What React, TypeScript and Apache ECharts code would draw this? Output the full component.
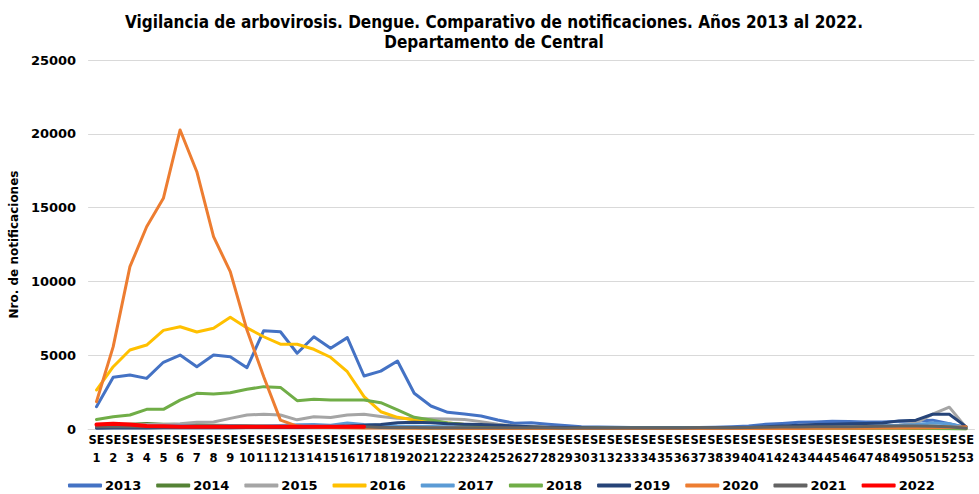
import React, { useEffect, useRef } from "react";
import * as echarts from "echarts";

const weeks: string[] = Array.from({ length: 53 }, (_, i) => `SE\n${i + 1}`);
const yTicks = [0, 5000, 10000, 15000, 20000, 25000];

const s2013 = [1510, 3500, 3660, 3430, 4520, 5010, 4220, 5010, 4900, 4150, 6660, 6590, 5130, 6250, 5470, 6190, 3590, 3920, 4610, 2420, 1560, 1130, 1020, 880, 610, 390, 430, 320, 230, 160, 130, 120, 100, 90, 80, 90, 110, 120, 150, 200, 320, 380, 450, 480, 530, 500, 480, 470, 520, 550, 600, 350, 100];
const s2014 = [250, 300, 330, 380, 330, 300, 280, 260, 240, 220, 200, 180, 160, 150, 130, 120, 110, 100, 90, 80, 70, 60, 60, 50, 50, 50, 40, 40, 40, 40, 40, 40, 40, 40, 40, 40, 40, 40, 40, 50, 60, 70, 80, 80, 80, 80, 80, 80, 80, 80, 60, 40, 20];
const s2015 = [200, 220, 250, 300, 300, 350, 450, 480, 720, 950, 1000, 950, 620, 830, 780, 950, 1000, 850, 720, 700, 700, 680, 650, 500, 320, 200, 150, 120, 100, 80, 80, 80, 70, 70, 70, 70, 70, 70, 80, 80, 100, 120, 140, 150, 160, 170, 180, 200, 250, 400, 1000, 1480, 100];
const s2016 = [2640, 4220, 5350, 5690, 6680, 6930, 6570, 6820, 7570, 6850, 6250, 5750, 5740, 5400, 4860, 3880, 2190, 1170, 790, 610, 500, 400, 300, 250, 200, 150, 130, 110, 100, 90, 90, 80, 80, 80, 80, 80, 90, 90, 100, 100, 110, 110, 120, 120, 130, 130, 140, 150, 200, 250, 200, 150, 50];
const s2017 = [150, 200, 200, 180, 200, 220, 200, 200, 220, 200, 200, 230, 280, 300, 260, 400, 300, 250, 200, 180, 170, 150, 140, 130, 120, 110, 100, 100, 90, 90, 80, 80, 80, 80, 80, 80, 80, 90, 100, 110, 130, 150, 160, 170, 200, 200, 210, 220, 250, 300, 400, 350, 80];
const s2018 = [650, 830, 950, 1330, 1330, 1960, 2420, 2370, 2460, 2690, 2870, 2820, 1920, 2010, 1960, 1960, 1960, 1780, 1290, 790, 610, 400, 300, 200, 150, 120, 100, 80, 70, 60, 60, 50, 50, 50, 50, 50, 50, 50, 50, 50, 50, 50, 50, 50, 50, 50, 50, 50, 50, 40, 30, 20, 0];
const s2019 = [50, 60, 70, 70, 80, 80, 80, 90, 90, 100, 100, 100, 110, 120, 150, 200, 250, 300, 420, 450, 430, 350, 330, 300, 250, 200, 150, 120, 100, 80, 70, 70, 60, 60, 60, 60, 70, 80, 90, 100, 150, 200, 250, 300, 320, 350, 380, 400, 550, 600, 1000, 1000, 160];
const s2020 = [1850, 5580, 11000, 13700, 15630, 20260, 17430, 13030, 10660, 6700, 3540, 600, 200, 120, 100, 80, 70, 60, 60, 50, 50, 50, 40, 40, 40, 40, 40, 40, 40, 40, 40, 40, 40, 40, 40, 40, 40, 40, 40, 40, 40, 40, 40, 50, 50, 50, 50, 60, 60, 70, 80, 100, 150];
const s2021 = [150, 150, 150, 150, 150, 150, 150, 150, 150, 150, 150, 150, 150, 150, 150, 150, 150, 100, 100, 100, 90, 90, 80, 80, 80, 80, 80, 80, 70, 70, 70, 70, 70, 70, 70, 70, 80, 80, 90, 100, 120, 130, 140, 150, 150, 160, 170, 180, 200, 200, 180, 150, 50];
const s2022 = [300, 350, 300, 200, 180, 160, 150, 150, 150, 150, 150, 150, 150, 150, 150, 150, 150];

const seriesDefs: { name: string; data: number[]; color: string; width: number }[] = [
  { name: "2013", data: s2013, color: "#4472C4", width: 3 },
  { name: "2014", data: s2014, color: "#548235", width: 3 },
  { name: "2015", data: s2015, color: "#A5A5A5", width: 3 },
  { name: "2016", data: s2016, color: "#FFC000", width: 3 },
  { name: "2017", data: s2017, color: "#5B9BD5", width: 3 },
  { name: "2018", data: s2018, color: "#70AD47", width: 3 },
  { name: "2019", data: s2019, color: "#264478", width: 3 },
  { name: "2020", data: s2020, color: "#ED7D31", width: 3 },
  { name: "2021", data: s2021, color: "#636363", width: 3 },
  { name: "2022", data: s2022, color: "#FF0000", width: 4 },
];

export default function App() {
  const ref = useRef<HTMLDivElement>(null);
  useEffect(() => {
    if (!ref.current) return;
    const chart = echarts.init(ref.current, null, { renderer: "svg" });
    chart.setOption({
      animation: false,
      backgroundColor: "#ffffff",
      title: {
        text: "Vigilancia de arbovirosis. Dengue. Comparativo de notificaciones. Años 2013 al 2022.\nDepartamento de Central",
        left: 489,
        top: 7,
        textAlign: "center",
        textStyle: {
          fontFamily: "DejaVu Sans Condensed",
          fontWeight: "bold",
          fontSize: 17,
          lineHeight: 20,
          color: "#000",
        },
      },
      legend: {
        top: 478,
        left: 68,
        width: 910,
        padding: [0, 0, 0, 0],
        itemGap: 15,
        itemWidth: 34,
        itemHeight: 4,
        icon: "roundRect",
        data: seriesDefs.map((s) => s.name),
        textStyle: { fontFamily: "DejaVu Sans", fontWeight: "bold", fontSize: 13, lineHeight: 15, color: "#000", padding: [0, 0, 0, -2] },
      },
      grid: { left: 86.6, right: 4.6, top: 60, bottom: 65, containLabel: false },
      xAxis: {
        type: "category",
        data: weeks,
        boundaryGap: true,
        axisLine: { lineStyle: { color: "#D9D9D9", width: 1 } },
        axisTick: { show: false },
        axisLabel: {
          interval: 0,
          fontFamily: "DejaVu Sans",
          fontWeight: "bold",
          fontSize: 11.5,
          lineHeight: 18,
          color: "#000",
          margin: 2,
        },
      },
      yAxis: {
        type: "value",
        min: yTicks[0],
        max: yTicks[yTicks.length - 1],
        interval: 5000,
        name: "Nro. de notificaciones",
        nameLocation: "middle",
        nameGap: 61,
        nameTextStyle: { fontFamily: "DejaVu Sans", fontWeight: "bold", fontSize: 12, color: "#000" },
        axisLine: { show: false },
        axisTick: { show: false },
        splitLine: { lineStyle: { color: "#D9D9D9", width: 1 } },
        axisLabel: {
          fontFamily: "DejaVu Sans",
          fontWeight: "bold",
          fontSize: 13,
          color: "#000",
          margin: 12,
          formatter: (v: number) => String(v),
        },
      },
      series: seriesDefs.map((s) => ({
        name: s.name,
        type: "line",
        data: s.data,
        color: s.color,
        symbol: "none",
        lineStyle: { width: s.width, color: s.color, cap: "round", join: "round" },
      })),
    });
    return () => chart.dispose();
  }, []);
  return <div ref={ref} style={{ position: "fixed", left: 0, top: 0, width: 979, height: 494 }} />;
}
